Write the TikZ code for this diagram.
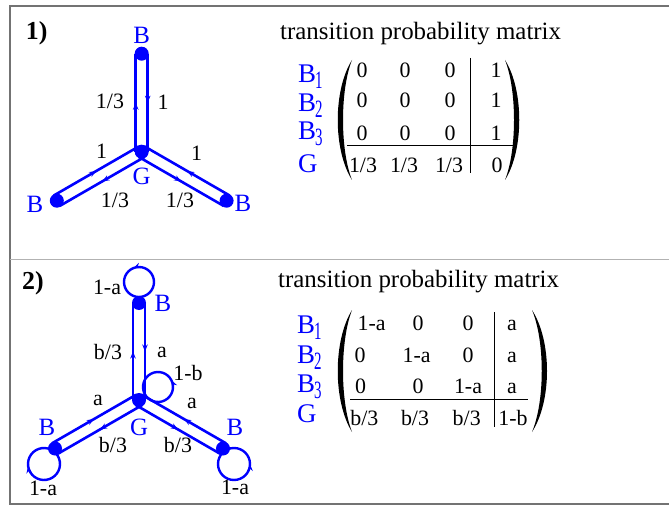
\documentclass[tikz,border=0pt]{standalone}
\usepackage{fontspec}
\usepackage{graphicx}
\setmainfont{Liberation Serif}
\usetikzlibrary{decorations.markings,arrows.meta,calc}
\newcommand\twoarm[4]{%
  \draw[arm] ($(#1)!6bp!#3:(#2)$) -- ($(#2)!6bp!#4:(#1)$);%
  \draw[arm] ($(#2)!6bp!#3:(#1)$) -- ($(#1)!6bp!#4:(#2)$);%
}
\newcommand\sub[1]{\kern-1bp\raisebox{-6bp}{\scalebox{0.6}[1]{\fontsize{25}{25}\selectfont #1}}}
\begin{document}
\begin{tikzpicture}[x=1bp,y=-1bp,
 dot/.style={circle,fill=blue,inner sep=0pt,minimum size=14bp},
 bl/.style={text=blue,font=\fontsize{25}{25}\selectfont,inner sep=0pt},
 el/.style={font=\fontsize{22}{22}\selectfont,inner sep=0pt},
 ent/.style={font=\fontsize{22}{22}\selectfont,inner sep=0pt,anchor=base},
 rl/.style={text=blue,font=\fontsize{27}{27}\selectfont,inner sep=0pt,anchor=base west},
 ttl/.style={font=\fontsize{25}{25}\selectfont,inner sep=0pt,anchor=west},
 num/.style={font=\bfseries\fontsize{26}{26}\selectfont,inner sep=0pt},
 arm/.style={draw=blue,line width=2.6bp,postaction={decorate},
   decoration={markings,mark=at position 0.5 with {\arrow{Stealth[length=7bp,width=5.5bp]}}}},
 loopst/.style={draw=blue,line width=2.4bp,postaction={decorate},
   decoration={markings,mark=at position 0.5 with {\arrow{Stealth[length=7bp,width=5.5bp]}}}},
 framedark/.style={draw=black!55,line width=1.5bp},
 framelight/.style={draw=black!30,line width=1.5bp},
 rule/.style={draw=black,line width=1bp}]
\useasboundingbox (0,0) rectangle (669,510);
% frame
\draw[framedark] (669,6) -- (10,6) -- (10,504) -- (669,504);
\draw[framelight] (10,259.5) -- (669,259.5);

%%%%% panel 1
\node[num] (n1) at (36.7,33) {1)};
\node[dot] (g1) at (141.7,151.7) {};
\node[dot] (b1) at (141.7,53.7) {};
\node[dot] (b2) at (56.8,200.7) {};
\node[dot] (b3) at (226.6,200.7) {};
\twoarm{g1}{b1}{90}{-90}
\twoarm{g1}{b2}{90}{-90}
\twoarm{g1}{b3}{-90}{90}
\node[bl] (lb1) at (141.7,35) {B};
\node[bl] (lb2) at (35,204) {B};
\node[bl] (lb3) at (243,203) {B};
\node[bl] (lg1) at (141.7,176.7) {G};
\node[el] (e1) at (110,101.7) {1/3};
\node[el] (e2) at (163,102) {1};
\node[el] (e3) at (101.7,151.7) {1};
\node[el] (e4) at (115,200) {1/3};
\node[el] (e5) at (180,200) {1/3};
\node[el] (e6) at (196.7,153) {1};

\node[ttl] (t1) at (280,34) {transition probability matrix};
\node[rl] (r11) at (298,83) {B\sub{1}};
\node[rl] (r12) at (298,112) {B\sub{2}};
\node[rl] (r13) at (298,140) {B\sub{3}};
\node[rl] (r14) at (298,173) {G};
% entries
\node[ent] (m111) at (362,78) {0};
\node[ent] (m112) at (405,78) {0};
\node[ent] (m113) at (450,78) {0};
\node[ent] (m114) at (496,78) {1};
\node[ent] (m121) at (362,108) {0};
\node[ent] (m122) at (405,108) {0};
\node[ent] (m123) at (450,108) {0};
\node[ent] (m124) at (496,108) {1};
\node[ent] (m131) at (362,141) {0};
\node[ent] (m132) at (405,141) {0};
\node[ent] (m133) at (450,141) {0};
\node[ent] (m134) at (496,141) {1};
\node[ent] (m141) at (363,173) {1/3};
\node[ent] (m142) at (404,173) {1/3};
\node[ent] (m143) at (449,173) {1/3};
\node[ent] (m144) at (497,173) {0};
\draw[rule] (347,146) -- (513,146);
\draw[rule] (470,58) -- (470,173);
\fill (352,60) .. controls (333,90) and (333,150) .. (352,180) .. controls (340,150) and (340,90) .. (352,60) -- cycle;
\fill (505,60) .. controls (524,90) and (524,150) .. (505,180) .. controls (517,150) and (517,90) .. (505,60) -- cycle;

%%%%% panel 2
\node[num] (n2) at (33,283) {2)};
\node[dot] (g2) at (139,400) {};
\node[dot] (c1) at (139,303) {};
\node[dot] (c2) at (55,448.5) {};
\node[dot] (c3) at (223,448.5) {};
\twoarm{g2}{c1}{90}{-90}
\twoarm{g2}{c2}{90}{-90}
\twoarm{g2}{c3}{-90}{90}
\coordinate (o1) at (139,282);
\coordinate (o2) at (44,464);
\coordinate (o3) at (234,464);
\coordinate (og) at (158,387);
\draw[loopst] ($(o1)+(428:15)$) arc[start angle=428,end angle=68,radius=15];
\draw[loopst] ($(o2)+(-8:16)$) arc[start angle=-8,end angle=352,radius=16];
\draw[loopst] ($(o3)+(180:16)$) arc[start angle=180,end angle=-180,radius=16];
\draw[loopst] ($(og)+(153:15)$) arc[start angle=153,end angle=-207,radius=15];
\node[bl] (ld1) at (163,303) {B};
\node[bl] (ld2) at (47,427) {B};
\node[bl] (ld3) at (235,427) {B};
\node[bl] (lg2) at (139,427) {G};
\node[el] (f1) at (107,287) {1-a};
\node[el] (f2) at (108,352) {b/3};
\node[el] (f3) at (162,352) {a};
\node[el] (f4) at (188,373) {1-b};
\node[el] (f5) at (98,400) {a};
\node[el] (f6) at (192,403) {a};
\node[el] (f7) at (113,445) {b/3};
\node[el] (f8) at (178,445) {b/3};
\node[el] (f9) at (43,488) {1-a};
\node[el] (f10) at (235,487) {1-a};

\node[ttl] (t2) at (278,282) {transition probability matrix};
\node[rl] (r21) at (297,333) {B\sub{1}};
\node[rl] (r22) at (297,363) {B\sub{2}};
\node[rl] (r23) at (297,392) {B\sub{3}};
\node[rl] (r24) at (297,422) {G};
\node[ent] (p111) at (371.7,330) {1-a};
\node[ent] (p112) at (418,330) {0};
\node[ent] (p113) at (468,330) {0};
\node[ent] (p114) at (512,330) {a};
\node[ent] (p121) at (360,362) {0};
\node[ent] (p122) at (416.7,362) {1-a};
\node[ent] (p123) at (468,362) {0};
\node[ent] (p124) at (512,362) {a};
\node[ent] (p131) at (360.7,393) {0};
\node[ent] (p132) at (418,393) {0};
\node[ent] (p133) at (468,393) {1-a};
\node[ent] (p134) at (512,393) {a};
\node[ent] (p141) at (364.3,425) {b/3};
\node[ent] (p142) at (415,425) {b/3};
\node[ent] (p143) at (466.7,425) {b/3};
\node[ent] (p144) at (513,425) {1-b};
\draw[rule] (350,399) -- (528,399);
\draw[rule] (494,312) -- (494,427);
\fill (352,310) .. controls (333,341) and (333,401) .. (352,432) .. controls (340,401) and (340,341) .. (352,310) -- cycle;
\fill (532,310) .. controls (552,341) and (552,401) .. (532,432) .. controls (545,401) and (545,341) .. (532,310) -- cycle;
\end{tikzpicture}
\end{document}
